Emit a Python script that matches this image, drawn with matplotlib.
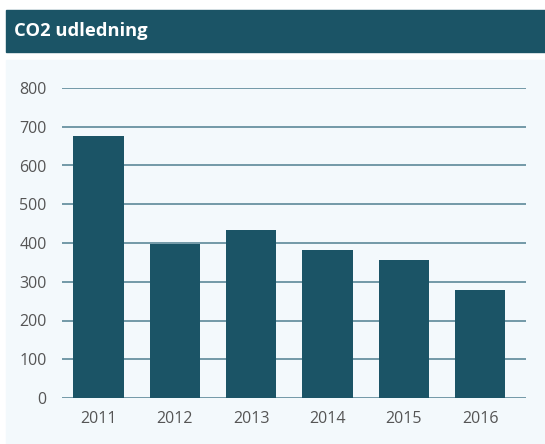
import matplotlib
matplotlib.use("Agg")
import matplotlib.pyplot as plt
from matplotlib.patches import Rectangle

# data
aar = ["2011", "2012", "2013", "2014", "2015", "2016"]
udledning = [676, 397, 433, 382, 356, 279]
y_ticks = [0, 100, 200, 300, 400, 500, 600, 700, 800]

MOERK = "#1b5466"
PANEL = "#f3f9fc"
W, H = 545, 444

plt.rcParams["font.family"] = ["Open Sans", "DejaVu Sans"]

fig = plt.figure(figsize=(W / 100, H / 100), dpi=100)
fig.patch.set_facecolor("white")

# titelbjaelke og panel bag grafen
fig.patches.append(Rectangle((6 / W, 1 - 52 / H), 1 - 6 / W, 42 / H,
                             transform=fig.transFigure, color=MOERK, zorder=-2))
fig.patches.append(Rectangle((6 / W, 0), 1 - 6 / W, 1 - 60 / H,
                             transform=fig.transFigure, color=PANEL, zorder=-2))
fig.text(14 / W, 1 - 31 / H, "CO2 udledning", color="white", fontsize=13.2,
         fontweight="bold", va="center", ha="left")

ax = fig.add_axes([62 / W, 46 / H, (526 - 62) / W, (398 - 88) / H])
ax.set_facecolor("none")

x = range(len(aar))
ax.bar(x, udledning, width=0.66, color=MOERK, zorder=3)

ax.set_ylim(0, 800)
ax.set_xlim(-0.48, 5.6)
ax.set_yticks(y_ticks)
ax.set_xticks(list(x))
ax.set_xticklabels(aar)
ax.grid(axis="y", color="#4f7f90", linewidth=1.1, zorder=1)
ax.tick_params(axis="both", length=0, labelsize=11.5, labelcolor="#555555")
ax.tick_params(axis="y", pad=11)
ax.tick_params(axis="x", pad=9)
for s in ax.spines.values():
    s.set_visible(False)

fig.savefig("out.png", dpi=100)
